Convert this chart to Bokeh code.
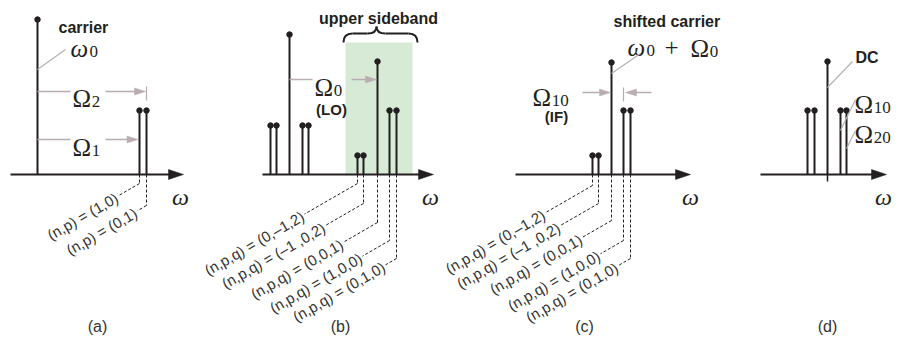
import math
from bokeh.plotting import figure
from bokeh.models import Range1d
from bokeh.core.properties import value
from bokeh.embed import file_html
from bokeh.resources import INLINE

# ---------------- data (x in px-like frequency units, amplitude above baseline) -------------
BASE = 174  # baseline row of the reference picture


def Y(img_y):
    return BASE - img_y


a_freq = [37, 139, 146]
a_amp = [155, 64, 64]
b_freq = [270, 276, 289, 302, 308, 357, 363, 377, 389, 396]
b_amp = [49, 49, 140, 49, 49, 19, 19, 113, 64, 64]
c_freq = [592, 598, 611, 623, 630]
c_amp = [19, 19, 112, 64, 64]
d_freq = [807, 814, 827, 840, 846]
d_amp = [64, 64, 113, 64, 64]

axis_start = [10, 262, 515, 760]
axis_end = [183, 433, 690, 886]
axis_label_x = [180, 430, 690, 883]

panel_labels = ["(a)", "(b)", "(c)", "(d)"]
panel_label_x = [97, 340, 584, 827]

a_orders = ["(n,p) = (1,0)", "(n,p) = (0,1)"]
bc_orders = ["(n,p,q) = (0,\u20131,2)", "(n,p,q) = (\u20131 ,0,2)", "(n,p,q) = (0,0,1)",
             "(n,p,q) = (1,0,0)", "(n,p,q) = (0,1,0)"]
a_depth = [9, 31]
a_run = [21, 9]
b_depth = [9, 29, 48, 66, 84]
b_run = [53, 38, 34, 27, 11]
c_depth = [11, 29, 46, 66, 84]
c_run = [47, 38, 29, 23, 12]

sideband_x = [345, 412]
sideband_top = 132

# ---------------- styling ----------------
INK = "#231f20"
GREY = "#b8adb0"
LEAD = "#b3b3b3"
GREEN = "#d6ead6"
SANS = "Liberation Sans"
SERIF = "Liberation Serif"
THETA = 30.0

p = figure(width=893, height=338, x_range=Range1d(0, 893), y_range=Range1d(Y(338), Y(0)),
           output_backend="svg", toolbar_location=None, min_border=0,
           x_axis_location=None, y_axis_location=None)
p.grid.visible = False
p.outline_line_color = None
p.background_fill_color = "white"
p.border_fill_color = "white"


def txt(x, y, s, size, font=SANS, style="normal", align="left", baseline="alphabetic",
        angle=0.0, color=INK):
    p.text(x=[x], y=[y], text=[s], text_font=value(font), text_font_size=f"{size}px",
           text_font_style=style, text_align=align, text_baseline=baseline,
           angle=angle, angle_units="deg", text_color=color)


def sym(x, y_img, main, sub, main_style="normal", size=25, sub_size=17, sub_dx=None):
    txt(x, Y(y_img), main, size, font=SERIF, style=main_style)
    if sub:
        dx = sub_dx if sub_dx is not None else (0.77 * size if main == "\u03a9" else 0.74 * size)
        txt(x + dx, Y(y_img + 3), sub, sub_size, font=SERIF)


def head(tip_x, y, direction, color, length=11, half=3.5):
    p.patch([tip_x, tip_x - direction * length, tip_x - direction * length],
            [y, y + half, y - half], fill_color=color, line_color=color, line_width=0.5)


def seg(x0, y0, x1, y1, color=INK, width=1.0, dash="solid"):
    p.segment(x0=[x0], y0=[y0], x1=[x1], y1=[y1], line_color=color, line_width=width,
              line_dash=dash)


# green upper sideband box (behind everything)
p.quad(left=[sideband_x[0]], right=[sideband_x[1]], bottom=[0], top=[sideband_top],
       fill_color=GREEN, line_color=None)

# axes
for xs, xe, lx in zip(axis_start, axis_end, axis_label_x):
    seg(xs, 0, xe - 10, 0, width=2)
    head(xe, 0, 1, INK, length=15, half=5)
    txt(lx, Y(196), "\u03c9", 24, font=SERIF, style="italic", align="center")
seg(d_freq[2], 0, d_freq[2], Y(181), width=1.5)

# stems
for fx, am in [(a_freq, a_amp), (b_freq, b_amp), (c_freq, c_amp), (d_freq, d_amp)]:
    p.segment(x0=fx, y0=[0] * len(fx), x1=fx, y1=am, line_color=INK, line_width=2)
    p.scatter(x=fx, y=am, size=5.5, color=INK)

# order labels with dashed leaders
tan_t = math.tan(math.radians(THETA))


def orders(stems, depths, runs, labels):
    for xs, d, r, lab in zip(stems, depths, runs, labels):
        seg(xs, 0, xs, -d, dash="3 2")
        xe = xs - r
        ye = -d - r * tan_t
        seg(xs, -d, xe, ye, dash="3 2")
        gx = xe - 2 * math.cos(math.radians(THETA))
        gy = ye - 2 * math.sin(math.radians(THETA))
        txt(gx, gy, lab, 15, align="right", baseline="middle", angle=THETA, color="#333333")


orders(a_freq[1:], a_depth, a_run, a_orders)
orders(b_freq[5:], b_depth, b_run, bc_orders)
orders(c_freq, c_depth, c_run, bc_orders)

# ---------------- panel (a) ----------------
txt(58, Y(27), "carrier", 16, style="bold")
sym(70, 48, "\u03c9", "0", main_style="italic", sub_dx=19)
seg(a_freq[0], Y(69), 65, Y(49), color=LEAD, width=1.2)
# Omega_2
seg(a_freq[0], Y(91), 70, Y(91), color=GREY, width=1.5)
sym(72, 98, "\u03a9", "2")
seg(105, Y(91), a_freq[2] - 11, Y(91), color=GREY, width=1.5)
head(a_freq[2] - 1, Y(91), 1, GREY)
seg(a_freq[2], Y(86), a_freq[2], Y(100), color=GREY, width=1.2)
# Omega_1
seg(a_freq[0], Y(139), 70, Y(139), color=GREY, width=1.5)
sym(72, 147, "\u03a9", "1")
seg(105, Y(139), a_freq[1] - 12, Y(139), color=GREY, width=1.5)
head(a_freq[1] - 1.5, Y(139), 1, GREY)

# ---------------- panel (b) ----------------
# brace
bl, bm, br, by0, by1, by2 = 343, 376, 417, Y(42), Y(33), Y(26)
p.quadratic(x0=[bl], y0=[by0], x1=[bl + 9], y1=[by1], cx=[bl], cy=[by1], line_color=INK, line_width=2)
seg(bl + 9, by1, bm - 9, by1, width=2)
p.quadratic(x0=[bm - 9], y0=[by1], x1=[bm], y1=[by2], cx=[bm], cy=[by1], line_color=INK, line_width=2)
p.quadratic(x0=[bm], y0=[by2], x1=[bm + 9], y1=[by1], cx=[bm], cy=[by1], line_color=INK, line_width=2)
seg(bm + 9, by1, br - 9, by1, width=2)
p.quadratic(x0=[br - 9], y0=[by1], x1=[br], y1=[by0], cx=[br], cy=[by1], line_color=INK, line_width=2)
txt(378, Y(18), "upper sideband", 16, style="bold", align="center")
# Omega_0 (LO)
seg(b_freq[2], Y(79), 312, Y(79), color=GREY, width=1.5)
sym(314, 87, "\u03a9", "0")
seg(351, Y(79), b_freq[7] - 12, Y(79), color=GREY, width=1.5)
head(b_freq[7] - 1, Y(79), 1, GREY)
txt(331, Y(109), "(LO)", 15, style="bold", align="center")

# ---------------- panel (c) ----------------
txt(613, Y(21), "shifted carrier", 16, style="bold")
sym(627, 47, "\u03c9", "0", main_style="italic", sub_dx=19)
txt(664, Y(47), "+", 25, font=SERIF)
sym(690, 48, "\u03a9", "0")
seg(c_freq[2], Y(73), 640, Y(53), color=LEAD, width=1.2)
sym(532, 97, "\u03a9", "10")
seg(582, Y(92), c_freq[2] - 12, Y(92), color=GREY, width=1.5)
head(c_freq[2] - 1, Y(92), 1, GREY)
seg(c_freq[3], Y(87), c_freq[3], Y(101), color=GREY, width=1.2)
head(c_freq[3] + 2, Y(92), -1, GREY)
seg(c_freq[3] + 12, Y(92), 651, Y(92), color=GREY, width=1.5)
txt(556, Y(116), "(IF)", 15, style="bold", align="center")

# ---------------- panel (d) ----------------
txt(855, Y(57), "DC", 16, style="bold")
seg(d_freq[2], Y(87), 852, Y(61), color=LEAD, width=1.2)
sym(854, 104, "\u03a9", "10")
seg(d_freq[3], Y(130), 855, Y(99), color=LEAD, width=1.2)
sym(854, 134, "\u03a9", "20")
seg(d_freq[4], Y(148), 855, Y(130), color=LEAD, width=1.2)

# panel captions
for lab, lx in zip(panel_labels, panel_label_x):
    txt(lx, Y(326), lab, 16, align="center", color="#333333")

open("out.html", "w").write(file_html(p, INLINE))
